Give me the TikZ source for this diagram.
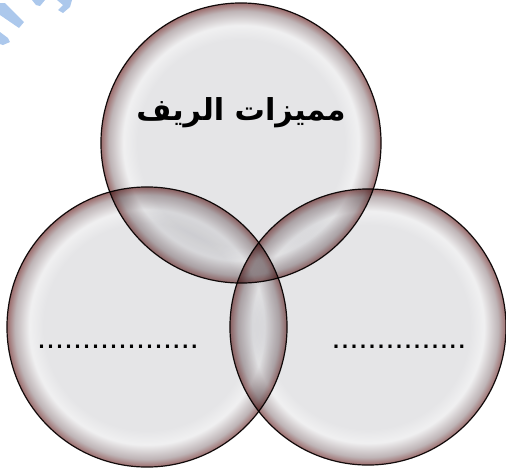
\documentclass[tikz,border=0pt]{standalone}
\usepackage{fontspec}
\setmainfont{Liberation Sans}
\newfontfamily\arabicfont[Script=Arabic]{DejaVu Sans}
\TeXXeTstate=1
\definecolor{bin}{RGB}{229,229,231}
\definecolor{bhi}{RGB}{240,240,241}
\definecolor{bmid}{RGB}{190,180,182}
\definecolor{brim}{RGB}{156,108,108}
\definecolor{wm}{RGB}{172,200,236}
\pgfdeclareradialshading{bubble}{\pgfpoint{0bp}{0bp}}{color(0bp)=(bin); color(18.5bp)=(bin); color(21bp)=(bhi); color(23.6bp)=(bmid); color(25bp)=(brim); color(50bp)=(brim)}
\tikzset{bub/.style={circle,draw=black!85!brim,line width=.85pt,shading=bubble,minimum size=7cm,inner sep=0pt},
 dots/.style={font=\fontsize{23}{25}\selectfont,inner sep=0pt,anchor=base},
 ttl/.style={font=\arabicfont\bfseries\fontsize{21.5}{24}\selectfont,inner sep=0pt},
 wmk/.style={fill=wm,draw=none}}

\begin{document}
\begin{tikzpicture}[x=0.025cm,y=-0.025cm]
\useasboundingbox (0,0) rectangle (506,475);
% faint watermark in the corner
\fill[wmk] (0,3)--(5,3)--(24,22)--(19,28)--(0,15)--cycle;
\fill[wmk] (0,32)--(8,38)--(10,42)--(3,45)--(0,44)--cycle;
\fill[wmk] (32,0)--(45,0)--(40,6)--(36,5)--cycle;
\fill[wmk] (57,0)--(72,0)--(70,7)--(63,13)--(58,10)--(63,5)--cycle;
% three bubbles
\begin{scope}[blend mode=multiply]
\node[bub] (top) at (241,143) {};
\node[bub] (lft) at (147,327) {};
\node[bub,minimum size=6.9cm] (rgt) at (368,327) {};
\end{scope}
\node[ttl] (t) at (top.center|-0,113) {\arabicfont\beginR مميزات الريف\endR};
\node[dots] (dl) at (118,348) {..................};
\node[dots] (dr) at (399,348) {...............};
\end{tikzpicture}
\end{document}
